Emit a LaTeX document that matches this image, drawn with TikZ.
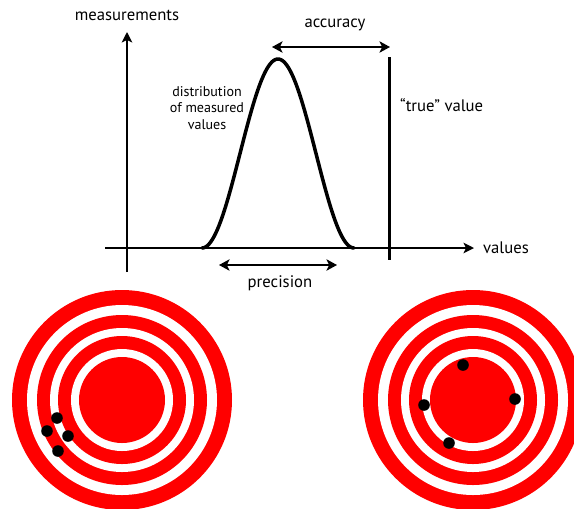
\documentclass[tikz,border=0pt]{standalone}
\usepackage{fontspec}
\setmainfont{PT Sans}
\usetikzlibrary{arrows.meta, positioning}

\begin{document}
\begin{tikzpicture}[x=0.02cm, y=-0.02cm,
    axis/.style={line width=0.8pt, -{Stealth[length=6pt, width=6pt, inset=1.5pt]}},
    span/.style={line width=0.8pt, {Stealth[length=6pt, width=6.5pt, inset=1.5pt]}-{Stealth[length=6pt, width=6.5pt, inset=1.5pt]}},
    lbl/.style={font=\fontsize{9.5}{11}\selectfont, inner sep=1pt},
    small/.style={font=\fontsize{8}{9.6}\selectfont, inner sep=1pt, align=center},
    hit/.style={circle, fill=black, inner sep=0pt, minimum size=6.6pt}]
    \clip (0,0) rectangle (574,508);

    % Axes
    \coordinate (ytop) at (127,32);
    \coordinate (ybot) at (127,272);
    \coordinate (xleft) at (105,248);
    \coordinate (xright) at (474,248);
    \draw[axis] (ybot) -- (ytop);
    \draw[axis] (xleft) -- (xright);
    \node[lbl] (meas) at (127,15) {measurements};
    \node[lbl, anchor=west] (vals) at (481,248) {values};

    % Distribution
    \draw[line width=2pt, line cap=round] plot[domain=-76:76, samples=90]
        ({278+\x},{248-94.5*(1+cos(180*\x/76))});
    \node[small] (dist) at (207,108) {distribution\\of measured\\values};

    % True value
    \coordinate (ttop) at (389,57);
    \coordinate (tbot) at (389,260);
    \draw[line width=1.7pt] (ttop) -- (tbot);
    \node[lbl, anchor=west] (true) at (398,105) {“true” value};

    % Accuracy and precision
    \coordinate (accl) at (272,47);
    \coordinate (accr) at (390,47);
    \draw[span] (accl) -- (accr);
    \node[lbl] (acc) at (335,25) {accuracy};
    \coordinate (prel) at (219,265);
    \coordinate (prer) at (337,265);
    \draw[span] (prel) -- (prer);
    \node[lbl] (prec) at (280,283) {precision};

    % Targets
    \foreach \cx in {122,473}
        \foreach \r/\c in {110/red,95/white,85/red,72/white,64/red,51/white,43/red}
            \fill[\c] (\cx,400) circle[radius=\r*0.02cm];

    % Hits
    \node[hit] (a1) at (57,418) {};
    \node[hit] (a2) at (47,431) {};
    \node[hit] (a3) at (68,436) {};
    \node[hit] (a4) at (58,451) {};
    \node[hit] (b1) at (463,365) {};
    \node[hit] (b2) at (424,405) {};
    \node[hit] (b3) at (515,399) {};
    \node[hit] (b4) at (449,443) {};
\end{tikzpicture}
\end{document}
